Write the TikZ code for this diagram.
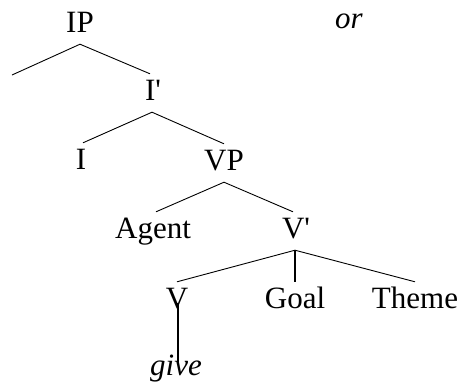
\documentclass[tikz,border=0pt]{standalone}
\usepackage{fontspec}
\setmainfont{Liberation Serif}
\usetikzlibrary{calc}
\tikzset{
  lbl/.style={anchor=base, inner sep=0pt, text height=26pt, text depth=12pt, font=\fontsize{31}{37}\selectfont},
  ital/.style={anchor=base, inner sep=0pt, font=\fontsize{31}{37}\selectfont\itshape},
  br/.style={line width=0.9pt},
  stem/.style={line width=1.6pt}
}
\begin{document}
\begin{tikzpicture}[x=1pt,y=-1pt]
\useasboundingbox (0,0) rectangle (463,384);
\node[lbl] (IP) at (80,32) {IP};
\node[ital] (or) at (349,28) {or};
\coordinate (spec) at (12,75);
\node[lbl] (Ib) at (153,100) {I\textquotesingle};
\node[lbl] (I) at (81,169) {I};
\node[lbl] (VP) at (224,170) {VP};
\node[lbl] (Agent) at (153,238) {Agent};
\node[lbl] (Vb) at (296,238) {V\textquotesingle};
\node[lbl] (V) at (177,308) {V};
\node[lbl] (Goal) at (295,308) {Goal};
\node[lbl] (Theme) at (415,308) {Theme};
\node[ital] (give) at (176,375) {give};
\draw[br] (spec) -- (IP.south) -- ($(Ib.north)+(-3pt,0)$);
\draw[br] ($(I.north)+(2pt,0)$) -- ($(Ib.south)+(-1pt,0)$) -- (VP.north);
\draw[br] ($(Agent.north)+(3pt,0)$) -- (VP.south) -- ($(Vb.north)+(-3pt,0)$);
\draw[br] (V.north) -- ($(Vb.south)+(-1pt,0)$) -- (Theme.north);
\draw[stem] ($(Vb.south)+(-1pt,0)$) -- (Goal.north);
\draw[stem] ($(V.base)+(1pt,5pt)$) -- ($(give.base)+(2pt,13pt)$);
\end{tikzpicture}
\end{document}
